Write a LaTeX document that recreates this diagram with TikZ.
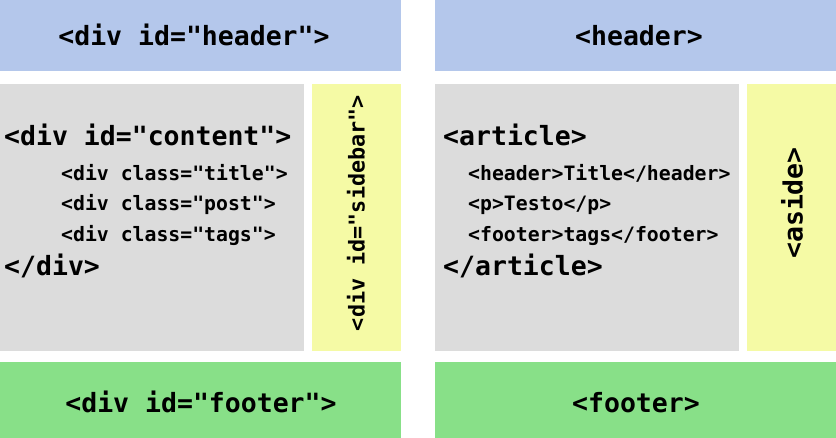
\documentclass[tikz,border=0pt]{standalone}
\usepackage{fontspec}
\setmonofont{DejaVu Sans Mono}
\definecolor{hdrblue}{RGB}{180,199,235}
\definecolor{bodygrey}{RGB}{220,220,220}
\definecolor{sideyellow}{RGB}{245,250,165}
\definecolor{footgreen}{RGB}{136,224,136}
\tikzset{
  region/.style={inner sep=0pt, outer sep=0pt},
  big/.style={inner sep=0pt, font=\ttfamily\bfseries\fontsize{26.5}{30}\selectfont},
  small/.style={inner sep=0pt, anchor=base west, font=\ttfamily\bfseries\fontsize{19.8}{24}\selectfont},
}
\begin{document}
\begin{tikzpicture}[x=1pt,y=-1pt]
\useasboundingbox (0,0) rectangle (836,438);
% coloured page regions, HTML4 layout (left) and HTML5 layout (right)
\fill[hdrblue]    (0,0)     rectangle (401,71);
\fill[bodygrey]   (0,84)    rectangle (304,351);
\fill[sideyellow] (312,84)  rectangle (401,351);
\fill[footgreen]  (0,362)   rectangle (401,438);
\fill[hdrblue]    (435,0)   rectangle (836,71);
\fill[bodygrey]   (435,84)  rectangle (739,351);
\fill[sideyellow] (747,84)  rectangle (836,351);
\fill[footgreen]  (435,362) rectangle (836,438);

% left column labels
\node[big, anchor=base] (lhead) at (194,46) {<div id="header">};
\node[big, anchor=base west] (lcont) at (4,145.5) {<div id="content">};
\node[small] (ltitle) at (61,181) {<div class="title">};
\node[small] (lpost) at (61,211) {<div class="post">};
\node[small] (ltags) at (61,242) {<div class="tags">};
\node[big, anchor=base west] (lend) at (4,276) {</div>};
\node[big, rotate=90, font=\ttfamily\bfseries\fontsize{21.8}{26}\selectfont] (lside) at (356,213) {<div id="sidebar">};
\node[big, anchor=base] (lfoot) at (201,413) {<div id="footer">};

% right column labels
\node[big, anchor=base] (rhead) at (639,46) {<header>};
\node[big, anchor=base west] (rart) at (443,145.5) {<article>};
\node[small] (rtitle) at (468,181) {<header>Title</header>};
\node[small] (rp) at (468,211) {<p>Testo</p>};
\node[small] (rtags) at (468,242) {<footer>tags</footer>};
\node[big, anchor=base west] (rend) at (443,276) {</article>};
\node[big, rotate=90] (rside) at (792,203) {<aside>};
\node[big, anchor=base] (rfoot) at (636,413) {<footer>};
\end{tikzpicture}
\end{document}
